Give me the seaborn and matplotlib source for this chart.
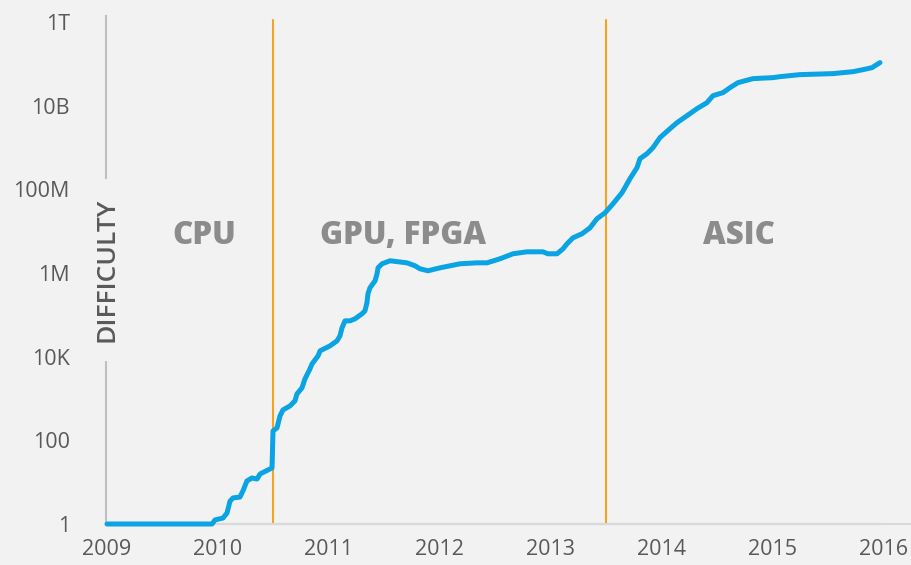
import numpy as np
import pandas as pd
import matplotlib
matplotlib.use("Agg")
import matplotlib.pyplot as plt
import seaborn as sns

# ---- data ----
years = [2009.00, 2009.947, 2009.974, 2010.046, 2010.082, 2010.109, 2010.136, 2010.199,
         2010.226, 2010.262, 2010.307, 2010.353, 2010.380, 2010.452, 2010.488, 2010.497,
         2010.533, 2010.560, 2010.587, 2010.650, 2010.695, 2010.713, 2010.758, 2010.785,
         2010.830, 2010.849, 2010.903, 2010.921, 2011.011, 2011.074, 2011.101, 2011.119,
         2011.146, 2011.191, 2011.236, 2011.299, 2011.326, 2011.344, 2011.353, 2011.371,
         2011.417, 2011.435, 2011.444, 2011.480, 2011.552, 2011.705, 2011.777, 2011.822,
         2011.894, 2012.003, 2012.183, 2012.336, 2012.427, 2012.544, 2012.661, 2012.787,
         2012.931, 2012.976, 2013.058, 2013.112, 2013.148, 2013.202, 2013.283, 2013.355,
         2013.418, 2013.491, 2013.563, 2013.644, 2013.716, 2013.779, 2013.806, 2013.869,
         2013.923, 2013.986, 2014.077, 2014.140, 2014.230, 2014.320, 2014.410, 2014.464,
         2014.555, 2014.618, 2014.690, 2014.825, 2015.005, 2015.069, 2015.249, 2015.546,
         2015.727, 2015.817, 2015.898, 2015.970]
difficulty = [1, 1, 1.25, 1.39, 1.83, 3.5, 4.2, 4.4,
              6.2, 10.7, 12.6, 11.9, 15.7, 19.6, 21.9, 168,
              198, 384, 534, 665, 877, 1288, 1794, 2943,
              5105, 6730, 10440, 13760, 18130, 23880, 31460, 48870,
              71830, 71830, 80170, 105600, 124700, 193700, 318000, 442300,
              650600, 956700, 1.33e6, 1.66e6, 1.96e6, 1.75e6, 1.49e6, 1.26e6,
              1.13e6, 1.33e6, 1.66e6, 1.75e6, 1.75e6, 2.19e6, 2.88e6, 3.21e6,
              3.21e6, 2.88e6, 2.88e6, 3.79e6, 5.0e6, 6.95e6, 8.67e6, 1.2e7,
              1.98e7, 2.75e7, 4.53e7, 8.3e7, 1.8e8, 3.29e8, 5.4e8, 7.1e8,
              9.9e8, 1.72e9, 2.82e9, 3.92e9, 5.76e9, 8.48e9, 1.18e10, 1.73e10,
              2.05e10, 2.7e10, 3.55e10, 4.43e10, 4.68e10, 4.94e10, 5.52e10, 5.83e10,
              6.5e10, 7.26e10, 8.1e10, 1.07e11]

era_boundaries = [2010.5, 2013.5]
era_labels = ["CPU", "GPU, FPGA", "ASIC"]
era_label_x = [2009.875, 2011.67, 2014.70]
era_label_y = 10 ** 6.88

x_ticks = [2009, 2010, 2011, 2012, 2013, 2014, 2015, 2016]
y_ticks = [1, 1e2, 1e4, 1e6, 1e8, 1e10, 1e12]
y_tick_labels = ["1", "100", "10K", "1M", "100M", "10B", "1T"]

# ---- style ----
BG = "#f2f2f2"
sns.set_style("white", {"axes.facecolor": BG, "figure.facecolor": BG})
plt.rcParams["font.family"] = ["Open Sans", "DejaVu Sans"]

fig = plt.figure(figsize=(9.12, 5.65), dpi=100)
W, H = 912, 565
left_px, right_px, bottom_px, top_px = 106, 912, 524, 16
ax = fig.add_axes([left_px / W, (H - bottom_px) / H,
                   (right_px - left_px) / W, (bottom_px - top_px) / H])
ax.set_facecolor(BG)

df = pd.DataFrame({"year": years, "difficulty": difficulty})
sns.lineplot(data=df, x="year", y="difficulty", ax=ax, color="#0aa3e3",
             linewidth=3.6, clip_on=False, zorder=3)
for ln in ax.lines:
    ln.set_solid_capstyle("round")
    ln.set_solid_joinstyle("round")

ax.set_yscale("log")
x_left = 2009.0 - 1 / 110.9
x_right = 2009 + (912 - 107) / 110.9
ax.set_xlim(x_left, x_right)
ax.set_ylim(1, 10 ** (12 + 6 / 41.83))

for xb in era_boundaries:
    ax.axvline(xb, ymin=0, ymax=(bottom_px - 20) / (bottom_px - top_px),
               color="#f5a31f", linewidth=1.5, zorder=2)

# x axis line: darker within data range, lighter beyond
ax.spines["bottom"].set_color("#d9d9d9")
ax.spines["bottom"].set_linewidth(1.5)
ax.axhline(1, xmin=0, xmax=(883 - 106) / (912 - 106), color="#bfbfbf",
           linewidth=1.5, zorder=2, clip_on=False)
ax.spines["left"].set_color("#bfbfbf")
ax.spines["left"].set_linewidth(1.5)
ax.spines["left"].set_zorder(1)
ax.spines["top"].set_visible(False)
ax.spines["right"].set_visible(False)

ax.set_xticks(x_ticks)
ax.set_xticklabels([str(t) for t in x_ticks])
ax.set_yticks(y_ticks)
ax.set_yticklabels(y_tick_labels)
ax.yaxis.set_minor_locator(matplotlib.ticker.NullLocator())
ax.tick_params(axis="both", length=0, labelsize=15.5, labelcolor="#595959")
ax.tick_params(axis="y", pad=26)
ax.tick_params(axis="x", pad=11)
ax.set_xlabel("")
ax.set_ylabel("")
ax.grid(False)

ax.text(0.0015, 0.5, "DIFFICULTY", transform=ax.transAxes, rotation=90,
        ha="center", va="center", fontsize=19, fontweight="semibold",
        color="#595959", zorder=5,
        bbox=dict(boxstyle="square,pad=0.7", facecolor=BG, edgecolor="none"))

for lx, lab in zip(era_label_x, era_labels):
    ax.text(lx, era_label_y, lab, ha="center", va="center", fontsize=22.5,
            fontweight=800, color="#8c8c8c", zorder=4)

fig.savefig("out.png", dpi=100, facecolor=BG)
